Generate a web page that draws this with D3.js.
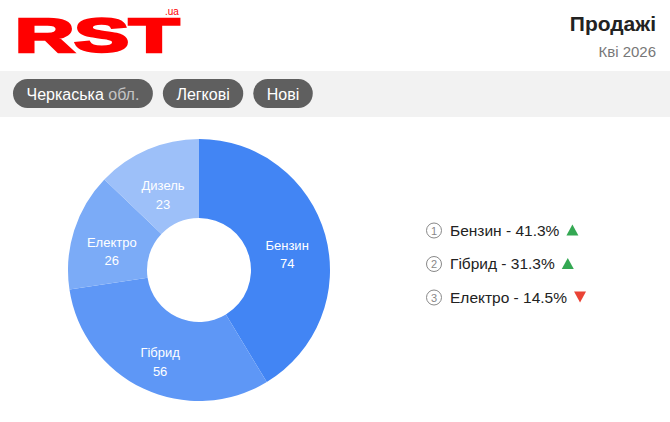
<!DOCTYPE html>
<html><head><meta charset="utf-8">
<script src="https://cdn.jsdelivr.net/npm/d3@7"></script>
<style>
html,body{margin:0;padding:0;background:#fff;}
svg{display:block;}
svg text{font-family:Arial,"Liberation Sans",Helvetica,sans-serif;}
</style></head><body>
<svg id="chart" width="670" height="422"></svg>
<script>
const categories = ["Бензин", "Гібрид", "Електро", "Дизель"];
const values = [74, 56, 26, 23];
const sliceColors = ["#4285f4", "#5e97f6", "#7babf7", "#9dc0f9"];
const legendItems = ["Бензин", "Гібрид", "Електро"];
const legendTrend = ["up", "up", "down"];
const filters = [["Черкаська", " обл."], ["Легкові", ""], ["Нові", ""]];
const title = "Продажі";
const subtitle = "Кві 2026";

const svg = d3.select("#chart");

// header logo
const logo = svg.append("g");
logo.append("text").attr("x", 15).attr("y", 52)
  .attr("font-size", 48).attr("font-weight", "bold").attr("fill", "#ff0000")
  .attr("stroke", "#ff0000").attr("stroke-width", 2.6).attr("stroke-linejoin", "miter")
  .attr("textLength", 164).attr("lengthAdjust", "spacingAndGlyphs").text("RST");
logo.append("text").attr("x", 165).attr("y", 15)
  .attr("font-size", 10).attr("fill", "#ff0000").text(".ua");

svg.append("text").attr("x", 656).attr("y", 31).attr("text-anchor", "end")
  .attr("font-size", 21).attr("font-weight", "bold").attr("fill", "#222").text(title);
svg.append("text").attr("x", 656).attr("y", 57).attr("text-anchor", "end")
  .attr("font-size", 15).attr("fill", "#777").text(subtitle);

// filter band
svg.append("rect").attr("x", 0).attr("y", 71).attr("width", 670).attr("height", 46).attr("fill", "#f2f2f2");
let fx = 13;
filters.forEach(f => {
  const g = svg.append("g");
  const t = g.append("text").attr("y", 99.5).attr("font-size", 16).attr("fill", "#fff");
  t.append("tspan").text(f[0]);
  if (f[1]) t.append("tspan").attr("fill", "#c4c4c4").text(f[1]);
  const w = t.node().getComputedTextLength();
  const pw = w + 27;
  g.insert("rect", "text").attr("x", fx).attr("y", 79).attr("width", pw).attr("height", 29)
    .attr("rx", 14.5).attr("fill", "#5f5f5f");
  t.attr("x", fx + 13.5);
  fx += pw + 10;
});

// donut
const total = d3.sum(values);
const data = categories.map((c, i) => ({name: c, value: values[i], color: sliceColors[i]}));
const pie = d3.pie().value(d => d.value).sort(null);
const arcs = pie(data);
const outerR = 131, innerR = 52;
const arc = d3.arc().innerRadius(innerR).outerRadius(outerR);
const labelArc = d3.arc().innerRadius((innerR + outerR) / 2).outerRadius((innerR + outerR) / 2);
const dg = svg.append("g").attr("transform", "translate(199,270)");
dg.selectAll("path").data(arcs).join("path").attr("d", arc).attr("fill", d => d.data.color);
const lbl = dg.selectAll("text.lbl").data(arcs).join("text").attr("class", "lbl")
  .attr("transform", d => `translate(${labelArc.centroid(d)})`)
  .attr("text-anchor", "middle").attr("fill", "#fff").attr("font-size", 13);
lbl.append("tspan").attr("x", 0).attr("y", 4.5).text(d => d.data.name);
lbl.append("tspan").attr("x", 0).attr("y", 23).text(d => d.data.value);

// legend
const lg = svg.append("g");
legendItems.forEach((name, i) => {
  const v = values[categories.indexOf(name)];
  const pct = d3.format(".1f")(v / total * 100) + "%";
  const y = 235.5 + i * 33.5;
  lg.append("circle").attr("cx", 434).attr("cy", y - 5).attr("r", 7.5)
    .attr("fill", "none").attr("stroke", "#888").attr("stroke-width", 1);
  lg.append("text").attr("x", 434).attr("y", y - 1).attr("text-anchor", "middle")
    .attr("font-size", 11).attr("fill", "#888").text(i + 1);
  const t = lg.append("text").attr("x", 450).attr("y", y).attr("font-size", 15.5).attr("fill", "#222")
    .text(`${name} - ${pct}`);
  const tx = 450 + t.node().getComputedTextLength() + 7;
  const up = legendTrend[i] === "up";
  const tri = up
    ? `M${tx},${y} L${tx + 12},${y} L${tx + 6},${y - 11} Z`
    : `M${tx},${y - 11} L${tx + 12},${y - 11} L${tx + 6},${y} Z`;
  lg.append("path").attr("d", tri).attr("fill", up ? "#34a853" : "#ea4335");
});
</script>
</body></html>
